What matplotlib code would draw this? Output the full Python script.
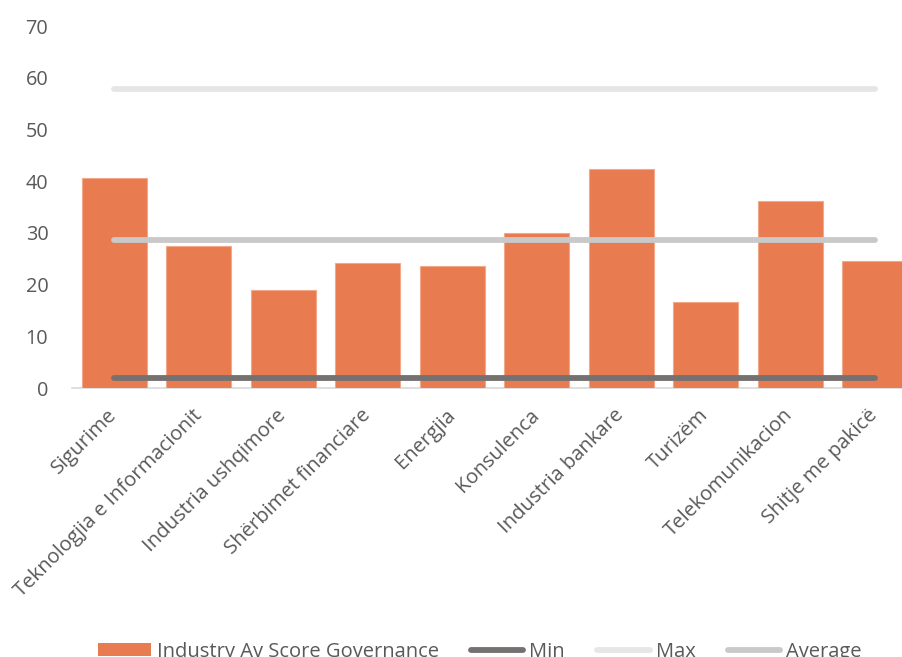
import numpy as np
import matplotlib.pyplot as plt
from matplotlib.lines import Line2D
from matplotlib.patches import Patch

plt.rcParams['font.family'] = ['Open Sans', 'DejaVu Sans']

# Governance scores by industry
industries = ["Sigurime", "Teknologjia e Informacionit", "Industria ushqimore",
              "Shërbimet financiare", "Energjia", "Konsulenca", "Industria bankare",
              "Turizëm", "Telekomunikacion", "Shitje me pakicë"]
scores = [40.6, 27.5, 19.0, 24.2, 23.5, 30.0, 42.4, 16.6, 36.1, 24.5]
min_score = [1.9] * 10
max_score = [57.8] * 10
avg_score = [28.7] * 10

bar_color = '#E87B50'
text_color = '#595959'

fig = plt.figure(figsize=(9.02, 6.57), dpi=100)
ax = fig.add_axes([0.0798, 0.4094, 0.9368, 0.551])

x = np.arange(len(industries))
ax.bar(x, scores, width=0.77, color=bar_color, edgecolor='#F2A98A', linewidth=0.8, zorder=2)
ax.plot(x, min_score, color='#767171', lw=4.2, solid_capstyle='round', zorder=3)
ax.plot(x, max_score, color='#E7E6E6', lw=4.2, solid_capstyle='round', zorder=3)
ax.plot(x, avg_score, color='#C9C9C9', lw=4.2, solid_capstyle='round', zorder=3)

ax.set_xlim(-0.5, len(industries) - 0.5)
ax.set_ylim(0, 70)
ax.set_yticks(range(0, 71, 10))
ax.tick_params(axis='y', length=0, pad=17, labelsize=14.3, labelcolor=text_color)
ax.tick_params(axis='x', length=0, pad=4, labelsize=14.6, labelcolor=text_color)
ax.set_xticks(x)
ax.set_xticklabels(industries, rotation=45, ha='right', va='center', rotation_mode='anchor')
for lbl in ax.get_xticklabels():
    lbl.set_y(-0.052)

for side in ['top', 'right', 'left']:
    ax.spines[side].set_visible(False)
ax.spines['bottom'].set_color('#D9D9D9')
ax.spines['bottom'].set_linewidth(1.2)
ax.spines['bottom'].set_zorder(1)

handles = [Patch(facecolor=bar_color),
           Line2D([], [], color='#767171', lw=4.2, solid_capstyle='round'),
           Line2D([], [], color='#E7E6E6', lw=4.2, solid_capstyle='round'),
           Line2D([], [], color='#C9C9C9', lw=4.2, solid_capstyle='round')]
labels = ["Industry Av Score Governance", "Min", "Max", "Average"]
fig.legend(handles, labels, loc='center', bbox_to_anchor=(0.532, 0.008), ncol=4,
           frameon=False, fontsize=14.5, labelcolor=text_color, handlelength=2.6,
           handleheight=0.6, handletextpad=0.3, columnspacing=1.6, borderpad=0)

fig.savefig('out.png', dpi=100)
